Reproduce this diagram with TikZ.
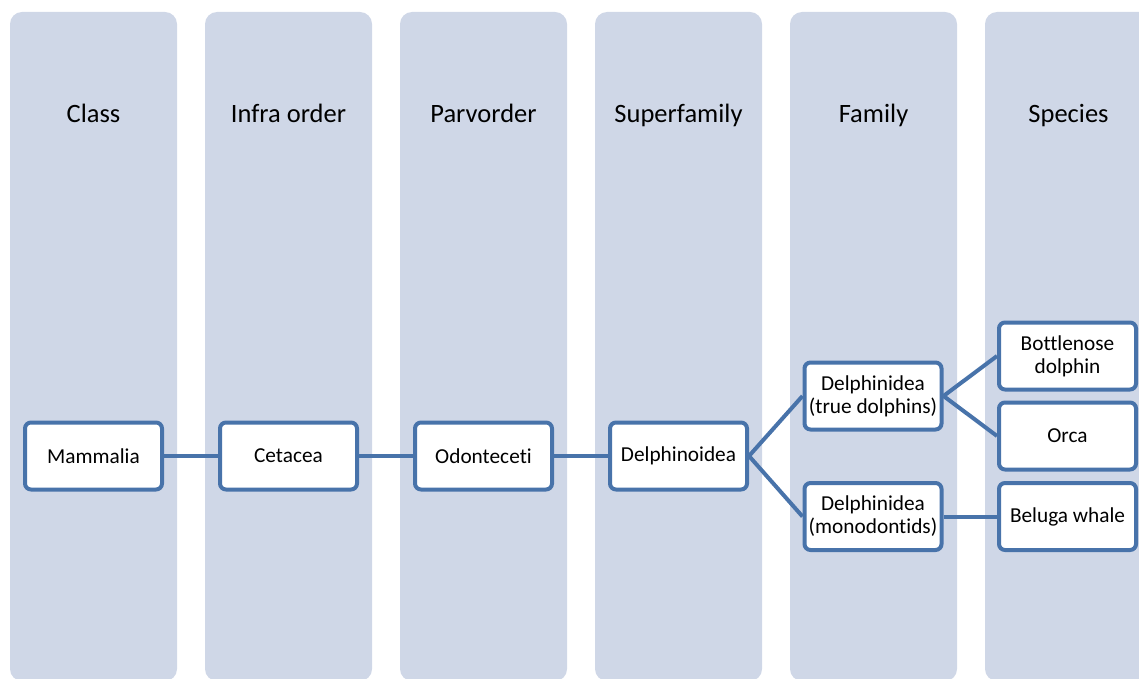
\documentclass[tikz,border=0pt]{standalone}
\usepackage{fontspec}
\setmainfont[Ligatures={NoCommon}]{Carlito}
\definecolor{colfill}{RGB}{207,215,231}
\definecolor{nodeblue}{RGB}{72,115,170}
\tikzset{
  column/.style={fill=colfill, draw=none, rounded corners=12pt},
  header/.style={font=\fontsize{26.5}{31}\selectfont, text=black, anchor=base, inner sep=0pt},
  taxon/.style={draw=nodeblue, line width=4pt, fill=white, rounded corners=6pt,
    minimum width=137pt, minimum height=67pt, inner sep=2pt, align=center,
    font=\fontsize{21.3}{23}\selectfont},
  link/.style={draw=nodeblue, line width=4pt}
}
\begin{document}
\begin{tikzpicture}[x=1pt,y=-1pt]
\useasboundingbox (0,0) rectangle (1139,679);
% columns
\foreach \i in {0,...,5}{
  \fill[column] (10+195*\i,12) rectangle (177+195*\i,681);
}
% headers
\node[header] (h1) at (93.5,122.5) {Class};
\node[header] (h2) at (288.5,122.5) {Infra order};
\node[header] (h3) at (483.5,122.5) {Parvorder};
\node[header] (h4) at (678.5,122.5) {Superfamily};
\node[header] (h5) at (873.5,122.5) {Family};
\node[header] (h6) at (1068.5,122.5) {Species};
% nodes
\node[taxon] (mam) at (93.5,456) {Mammalia};
\node[taxon] (cet) at (288.5,456) {Cetacea};
\node[taxon] (odo) at (483.5,456) {Odonteceti};
\node[taxon] (del) at (678.5,456) {Delphinoidea};
\node[taxon] (tru) at (873,396) {Delphinidea\\(true dolphins)};
\node[taxon] (mon) at (873,516.5) {Delphinidea\\(monodontids)};
\node[taxon] (bot) at (1067.5,356) {Bottlenose\\dolphin};
\node[taxon] (orc) at (1067.5,436) {Orca};
\node[taxon] (bel) at (1067.5,516.5) {Beluga whale};
% connectors
\draw[link] (mam.east) -- (cet.west);
\draw[link] (cet.east) -- (odo.west);
\draw[link] (odo.east) -- (del.west);
\draw[link] (del.east) -- (tru.west);
\draw[link] (del.east) -- (mon.west);
\draw[link] (tru.east) -- (bot.west);
\draw[link] (tru.east) -- (orc.west);
\draw[link] (mon.east) -- (bel.west);
\end{tikzpicture}
\end{document}
